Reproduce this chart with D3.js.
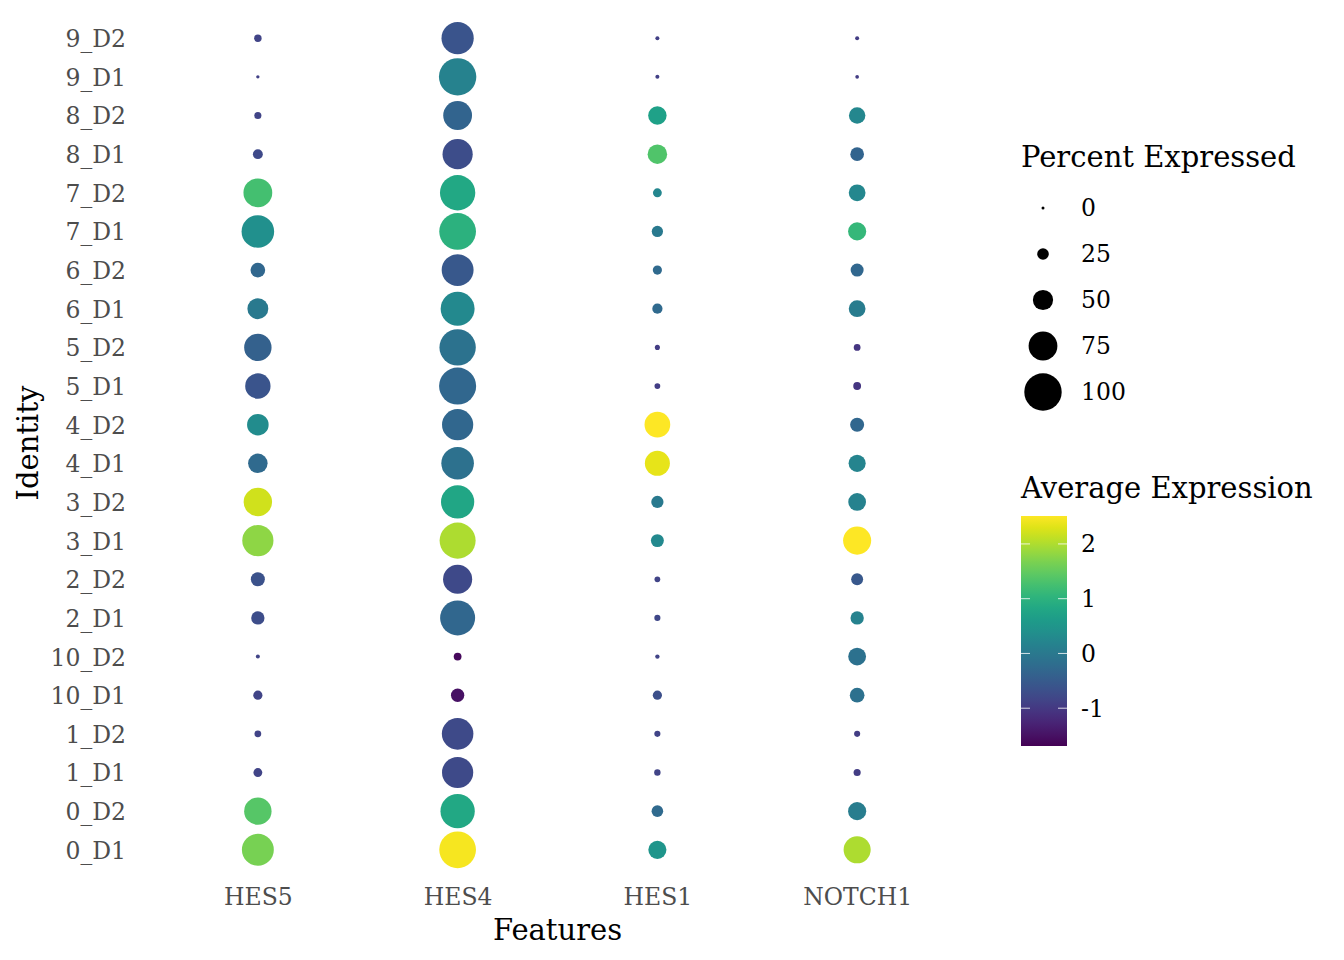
<!DOCTYPE html>
<html>
<head>
<meta charset="utf-8">
<script src="https://cdn.jsdelivr.net/npm/d3@7"></script>
<style>
  body { margin: 0; background: #fff; }
  text { font-family: "DejaVu Serif", serif; }
</style>
</head>
<body>
<svg id="chart" width="1344" height="960"></svg>
<script>
// Identities, bottom row first
identities = ['0_D1','0_D2','1_D1','1_D2','10_D1','10_D2','2_D1','2_D2',
              '3_D1','3_D2','4_D1','4_D2','5_D1','5_D2','6_D1','6_D2',
              '7_D1','7_D2','8_D1','8_D2','9_D1','9_D2'];
features   = ['HES5','HES4','HES1','NOTCH1'];

// Percent expressed, one array per feature, same order as identities
pctHES5   = [84,71,17,11,18,3, 30,32,82,74,48,54,65,71,52,34,86,75,20,12,1,13];
pctHES4   = [98,91,82,83,30,14,93,76,96,88,86,82,99,97,90,84,98,94,79,75,100,85];
pctHES1   = [44,25,10,9, 18,4, 9, 8, 29,27,64,66,8, 6, 21,18,24,17,48,45,3,3];
pctNOTCH1 = [70,44,12,9, 34,43,30,26,73,43,41,32,14,11,40,29,44,40,31,39,2,3];

// Average expression (scaled), same order
avgHES5   = [1.65,1.4,-0.85,-0.85,-0.85,-0.85,-0.72,-0.64,1.8,2.2,-0.26,0.33,-0.6,-0.4,0.0,-0.3,0.4,1.25,-0.77,-0.85,-0.9,-0.85];
avgHES4   = [2.45,0.83,-0.75,-0.75,-1.5,-1.6,-0.3,-0.77,2.0,0.79,-0.14,-0.3,-0.3,-0.1,0.28,-0.55,1.0,0.83,-0.72,-0.35,0.15,-0.6];
avgHES1   = [0.5,-0.25,-0.85,-0.85,-0.68,-0.85,-0.8,-0.85,0.28,0.0,2.35,2.5,-0.93,-0.95,-0.26,-0.26,0.0,0.24,1.35,0.7,-0.9,-0.9];
avgNOTCH1 = [2.0,0.08,-0.95,-0.95,-0.14,-0.13,0.15,-0.55,2.5,0.18,0.2,-0.3,-1.05,-1.05,0.05,-0.3,1.1,0.25,-0.35,0.25,-0.95,-0.95];

sizeBreaks  = [0,25,50,75,100];
colorBreaks = [2,1,0,-1];
colorDomain = [-1.69, 2.51];

// long format for drawing
var pctByFeature = [pctHES5, pctHES4, pctHES1, pctNOTCH1];
var avgByFeature = [avgHES5, avgHES4, avgHES1, avgNOTCH1];
var dots = [];
features.forEach(function(f, fi) {
    identities.forEach(function(id, ii) {
        dots.push({feature: f, id: id, pct: pctByFeature[fi][ii], avg: avgByFeature[fi][ii]});
    });
});

var svg = d3.select('#chart');
var plot = {left: 138, right: 977, top: 15, bottom: 873};
var tickFont = '23.5px', titleFont = '29px';

var x = d3.scalePoint().domain(features)
    .range([plot.left, plot.right]).padding(0.6);
var y = d3.scalePoint().domain(identities)
    .range([plot.bottom, plot.top]).padding(0.6);
var radius = d3.scaleLinear().domain([0, 100]).range([1.5, 18.7]);
var color = d3.scaleSequential(d3.interpolateViridis).domain(colorDomain);

// dots
svg.append('g').selectAll('circle')
    .data(dots).enter()
    .append('circle')
        .attr('cx', function(d) { return x(d.feature); })
        .attr('cy', function(d) { return y(d.id); })
        .attr('r', function(d) { return radius(d.pct); })
        .attr('fill', function(d) { return color(d.avg); });

// axes (labels only, no lines)
var xAxis = svg.append('g')
    .attr('transform', 'translate(0,905)')
    .call(d3.axisBottom(x).tickSize(0).tickPadding(0));
var yAxis = svg.append('g')
    .attr('transform', 'translate(' + (plot.left - 12) + ',0)')
    .call(d3.axisLeft(y).tickSize(0).tickPadding(0));
[xAxis, yAxis].forEach(function(a) {
    a.select('.domain').remove();
    a.selectAll('text')
        .attr('fill', '#4d4d4d')
        .style('font-family', '"DejaVu Serif", serif')
        .style('font-size', tickFont);
});
xAxis.selectAll('text').attr('y', 0).attr('dy', 0);
yAxis.selectAll('text').attr('dy', '0.36em');

svg.append('text')
    .attr('x', (plot.left + plot.right) / 2).attr('y', 940)
    .attr('text-anchor', 'middle')
    .style('font-size', titleFont)
    .text('Features');
svg.append('text')
    .attr('transform', 'translate(38,' + 443 + ') rotate(-90)')
    .attr('text-anchor', 'middle')
    .style('font-size', titleFont)
    .text('Identity');

// size legend
var sizeLegend = svg.append('g').attr('transform', 'translate(1021,0)');
sizeLegend.append('text')
    .attr('x', 0).attr('y', 167)
    .style('font-size', titleFont)
    .text('Percent Expressed');
var sizeItems = sizeLegend.selectAll('g.item')
    .data(sizeBreaks).enter()
    .append('g')
        .attr('class', 'item')
        .attr('transform', function(d, i) { return 'translate(0,' + (208 + i * 46) + ')'; });
sizeItems.append('circle')
    .attr('cx', 22).attr('cy', 0)
    .attr('r', function(d) { return radius(d); })
    .attr('fill', '#000');
sizeItems.append('text')
    .attr('x', 60).attr('dy', '0.36em')
    .style('font-size', tickFont)
    .text(function(d) { return d; });

// colour legend
var barTop = 516, barBottom = 746, barLeft = 1021, barWidth = 46;
var barScale = d3.scaleLinear().domain(colorDomain).range([barBottom, barTop]);
var defs = svg.append('defs');
var grad = defs.append('linearGradient')
    .attr('id', 'viridisGrad')
    .attr('x1', 0).attr('y1', 1).attr('x2', 0).attr('y2', 0);
d3.range(0, 1.0001, 0.05).forEach(function(t) {
    grad.append('stop')
        .attr('offset', t)
        .attr('stop-color', d3.interpolateViridis(t));
});
svg.append('text')
    .attr('x', barLeft).attr('y', 498)
    .style('font-size', titleFont)
    .text('Average Expression');
svg.append('rect')
    .attr('x', barLeft).attr('y', barTop)
    .attr('width', barWidth).attr('height', barBottom - barTop)
    .attr('fill', 'url(#viridisGrad)');
var cTicks = svg.append('g').selectAll('g')
    .data(colorBreaks).enter()
    .append('g')
        .attr('transform', function(d) { return 'translate(0,' + barScale(d) + ')'; });
cTicks.append('line')
    .attr('x1', barLeft).attr('x2', barLeft + 9)
    .attr('stroke', '#fff').attr('stroke-width', 0.8);
cTicks.append('line')
    .attr('x1', barLeft + barWidth - 9).attr('x2', barLeft + barWidth)
    .attr('stroke', '#fff').attr('stroke-width', 0.8);
cTicks.append('text')
    .attr('x', 1081).attr('dy', '0.36em')
    .style('font-size', tickFont)
    .text(function(d) { return d; });
</script>
</body>
</html>
